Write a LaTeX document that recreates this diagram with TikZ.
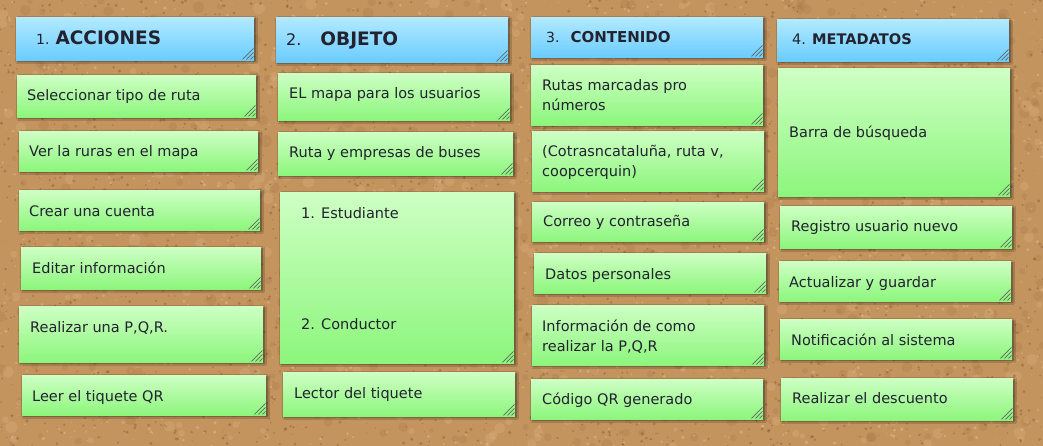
\documentclass[tikz,border=0pt]{standalone}
\usepackage{fontspec}
\setmainfont{DejaVu Sans}
\usetikzlibrary{shadows,shadows.blur}
\definecolor{cork}{RGB}{196,148,94}
\definecolor{corkdark}{RGB}{110,72,38}
\definecolor{corkmid}{RGB}{150,104,60}
\definecolor{corklight}{RGB}{232,196,148}
\definecolor{gtop}{RGB}{206,255,196}
\definecolor{gbot}{RGB}{140,246,124}
\definecolor{btop}{RGB}{178,234,255}
\definecolor{bbot}{RGB}{106,204,255}
\definecolor{ink}{RGB}{34,34,48}
\tikzset{
 notebase/.style={rectangle, inner sep=0pt, draw=none,
   blur shadow={shadow xshift=1.5pt, shadow yshift=-1.5pt, shadow blur radius=2pt, shadow opacity=60}},
 greennote/.style={notebase, top color=gtop, bottom color=gbot},
 bluenote/.style={notebase, top color=btop, bottom color=bbot},
 hatch/.style={draw=black!60, line width=0.7pt},
 txt/.style={anchor=base west, inner sep=0pt, text=ink, font=\fontsize{14.5}{20}\selectfont, align=left},
 head/.style={anchor=base west, inner sep=0pt, text=ink},
}
\newcommand\mknote[6]{%
 \pgfmathsetmacro\nw{#5-#3}\pgfmathsetmacro\nh{#6-#4}%
 \node[#1, minimum width=\nw pt, minimum height=\nh pt, anchor=north west] (#2) at (#3,#4) {};
 \foreach \k in {4,8,12}{\draw[hatch] ([xshift=-1pt,yshift=\k pt]#2.south east) -- ([xshift=-\k pt,yshift=1pt]#2.south east);}
}
\begin{document}
\begin{tikzpicture}[x=1pt,y=-1pt]
\useasboundingbox (0,0) rectangle (1043,446);
\fill[cork] (0,0) rectangle (1043,446);
\pgfmathsetseed{12345}
\foreach \i in {1,...,700}{%
 \pgfmathsetmacro\rx{rnd*1043}\pgfmathsetmacro\ry{rnd*446}\pgfmathsetmacro\rr{2+rnd*4}%
 \fill[corkmid,opacity=0.18] (\rx,\ry) circle[radius=\rr pt];}
\foreach \i in {1,...,500}{%
 \pgfmathsetmacro\rx{rnd*1043}\pgfmathsetmacro\ry{rnd*446}\pgfmathsetmacro\rr{2+rnd*4}%
 \fill[corklight,opacity=0.2] (\rx,\ry) circle[radius=\rr pt];}
\foreach \i in {1,...,3000}{%
 \pgfmathsetmacro\rx{rnd*1043}\pgfmathsetmacro\ry{rnd*446}\pgfmathsetmacro\rr{0.4+rnd*1.3}%
 \fill[corkdark,opacity=0.35] (\rx,\ry) circle[radius=\rr pt];}
\foreach \i in {1,...,1600}{%
 \pgfmathsetmacro\rx{rnd*1043}\pgfmathsetmacro\ry{rnd*446}\pgfmathsetmacro\rr{0.4+rnd*1.4}%
 \fill[corklight,opacity=0.45] (\rx,\ry) circle[radius=\rr pt];}

% column 1
\mknote{bluenote}{h1}{16}{17}{254}{60}
\mknote{greennote}{a1}{17}{75}{256}{117}
\mknote{greennote}{a2}{19}{131}{258}{171}
\mknote{greennote}{a3}{19}{190}{260}{230}
\mknote{greennote}{a4}{21}{247}{261}{289}
\mknote{greennote}{a5}{19}{306}{263}{362}
\mknote{greennote}{a6}{22}{375}{266}{415}
% column 2
\mknote{bluenote}{h2}{276}{17}{508}{62}
\mknote{greennote}{b1}{278}{73}{510}{120}
\mknote{greennote}{b2}{278}{132}{513}{175}
\mknote{greennote}{b3}{280}{192}{514}{363}
\mknote{greennote}{b4}{283}{372}{515}{416}
% column 3
\mknote{bluenote}{h3}{531}{17}{763}{57}
\mknote{greennote}{c1}{531}{65}{763}{125}
\mknote{greennote}{c2}{532}{131}{764}{191}
\mknote{greennote}{c3}{532}{202}{764}{241}
\mknote{greennote}{c4}{534}{253}{766}{293}
\mknote{greennote}{c5}{532}{305}{764}{365}
\mknote{greennote}{c6}{531}{379}{763}{419}
% column 4
\mknote{bluenote}{h4}{777}{19}{1009}{61}
\mknote{greennote}{d1}{778}{68}{1010}{196}
\mknote{greennote}{d2}{780}{206}{1012}{248}
\mknote{greennote}{d3}{779}{261}{1011}{301}
\mknote{greennote}{d4}{780}{319}{1012}{359}
\mknote{greennote}{d5}{781}{378}{1013}{420}

% headers
\node[head] (h1t) at (36,45) {{\fontsize{14}{16}\selectfont 1.}\hspace*{6pt}{\fontsize{18.5}{20}\selectfont\bfseries ACCIONES}};
\node[head] (h2t) at (286,46) {{\fontsize{16}{18}\selectfont 2.}\hspace*{19pt}{\fontsize{18.5}{20}\selectfont\bfseries OBJETO}};
\node[head] (h3t) at (546,43) {{\fontsize{14}{16}\selectfont 3.}\hspace*{11pt}{\fontsize{15}{17}\selectfont\bfseries CONTENIDO}};
\node[head] (h4t) at (792,45) {{\fontsize{14.5}{16}\selectfont 4.}\hspace*{6pt}{\fontsize{14.6}{17}\selectfont\bfseries METADATOS}};

% texts
\node[txt] (a1t) at (27,101) {Seleccionar tipo de ruta};
\node[txt] (a2t) at (29,157) {Ver la ruras en el mapa};
\node[txt] (a3t) at (29,217) {Crear una cuenta};
\node[txt] (a4t) at (32,273) {Editar información};
\node[txt] (a5t) at (30,332) {Realizar una P,Q,R.};
\node[txt] (a6t) at (32,401) {Leer el tiquete QR};

\node[txt] (b1t) at (289,99) {EL mapa para los usuarios};
\node[txt] (b2t) at (289,158) {Ruta y empresas de buses};
\node[txt] (b3a) at (301,219) {1. Estudiante};
\node[txt] (b3b) at (301,329) {2. Conductor};
\node[txt] (b4t) at (294,398) {Lector del tiquete};

\node[txt] (c1t) at (542,111) {Rutas marcadas pro\\números};
\node[txt] (c2t) at (542,177) {(Cotrasncataluña, ruta v,\\coopcerquin)};
\node[txt] (c3t) at (543,227) {Correo y contraseña};
\node[txt] (c4t) at (545,279) {Datos personales};
\node[txt] (c5t) at (542,351) {Información de como\\realizar la P,Q,R};
\node[txt] (c6t) at (542,404) {Código QR generado};

\node[txt] (d1t) at (789,138) {Barra de búsqueda};
\node[txt] (d2t) at (791,232) {Registro usuario nuevo};
\node[txt] (d3t) at (789,287) {Actualizar y guardar};
\node[txt] (d4t) at (791,345) {Notificación al sistema};
\node[txt] (d5t) at (792,403) {Realizar el descuento};
\end{tikzpicture}
\end{document}
